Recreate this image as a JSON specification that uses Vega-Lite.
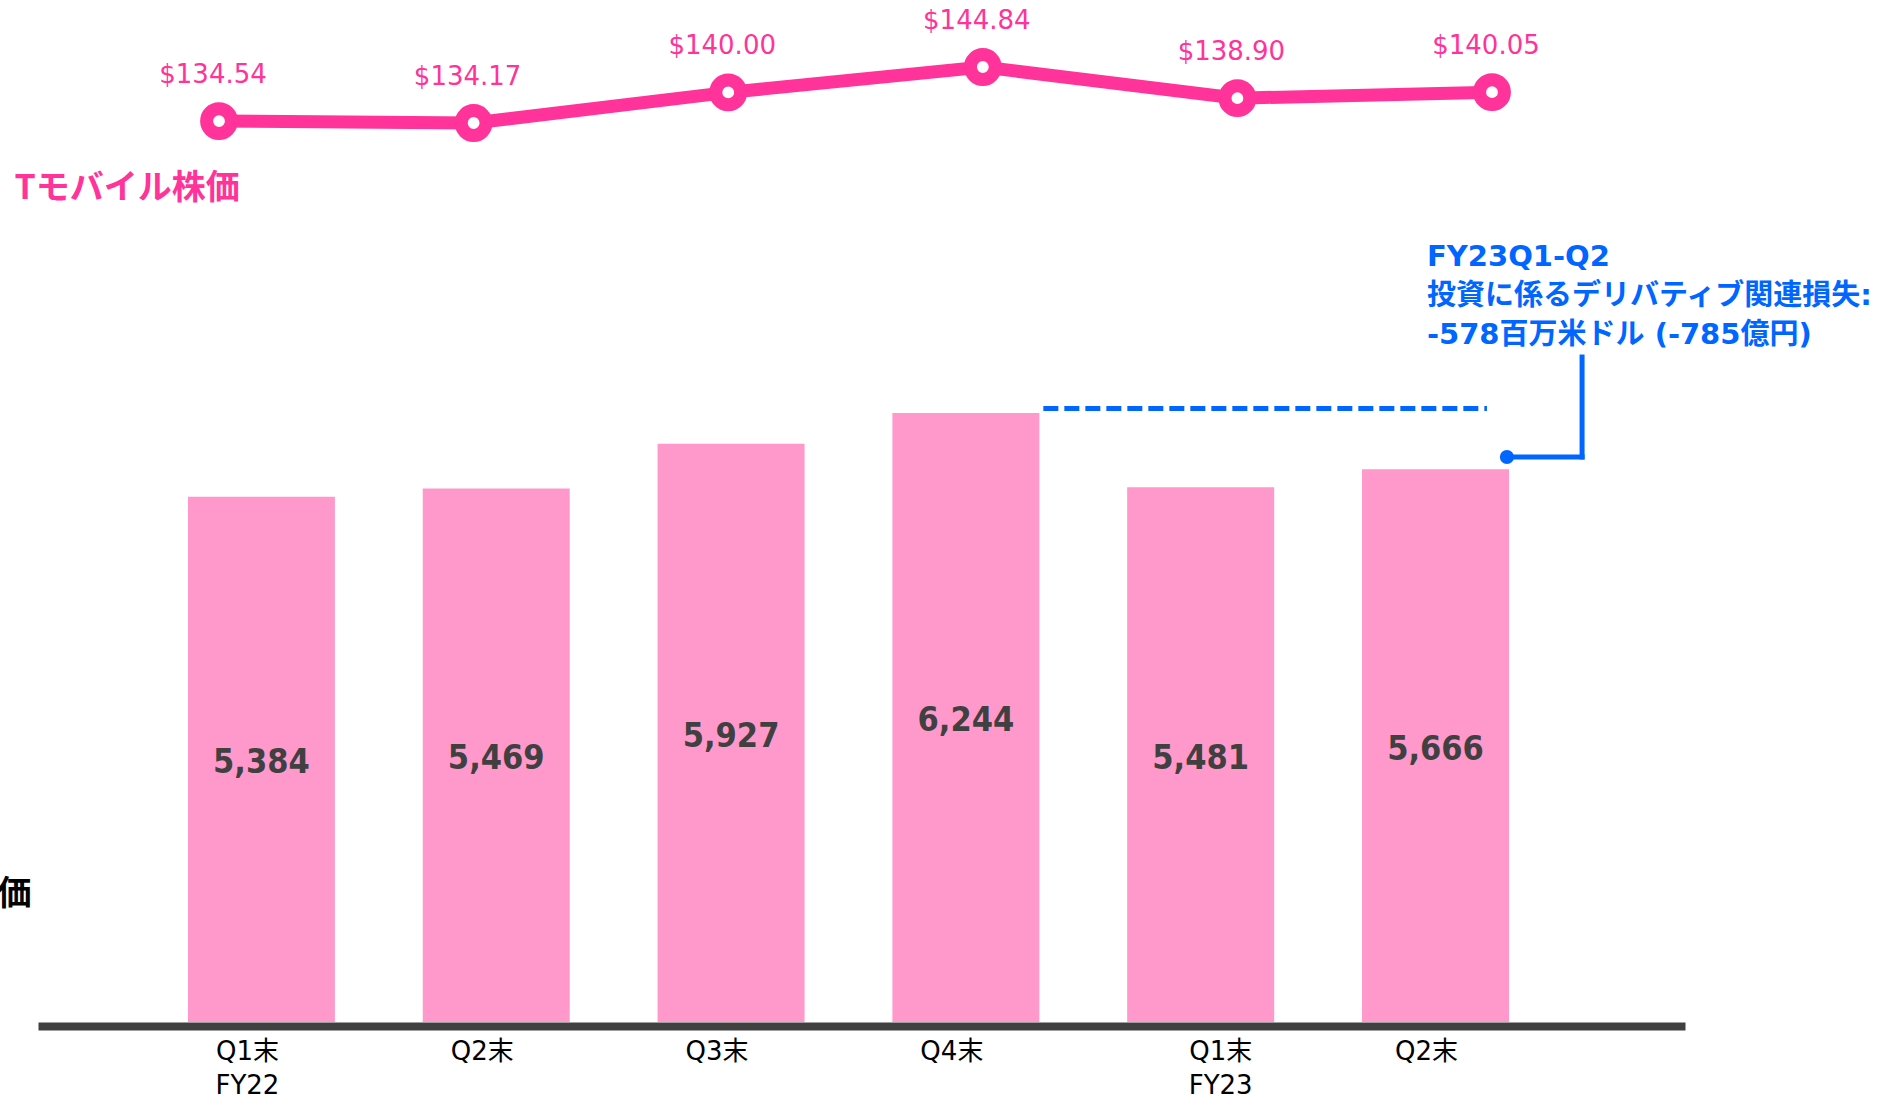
{
  "$schema": "https://vega.github.io/schema/vega-lite/v6.json",
  "autosize": {"type": "none"},
  "padding": {"left": 38, "top": 0, "right": 192, "bottom": 76},
  "width": 1647,
  "height": 1022,
  "background": "white",
  "config": {"view": {"stroke": null}, "axis": {"grid": false}},
  "datasets": {
    "quarters": [
      {"period": "FY22Q1", "value": 5384, "price": 134.54},
      {"period": "FY22Q2", "value": 5469, "price": 134.17},
      {"period": "FY22Q3", "value": 5927, "price": 140.00},
      {"period": "FY22Q4", "value": 6244, "price": 144.84},
      {"period": "FY23Q1", "value": 5481, "price": 138.90},
      {"period": "FY23Q2", "value": 5666, "price": 140.05}
    ],
    "reference": [
      {"from": "FY22Q4", "to": "FY23Q2", "level": 6244}
    ],
    "connector": [
      {"period": "FY23Q2", "low": 5792, "high": 6817}
    ],
    "note": [
      {"period": "FY23Q2", "pos": 7842, "label": "FY23Q1-Q2\n投資に係るデリバティブ関連損失:\n-578百万米ドル (-785億円)"}
    ]
  },
  "layer": [
    {
      "layer": [
        {
          "data": {"name": "quarters"},
          "mark": {"type": "bar", "color": "#FF99CC"},
          "encoding": {
            "x": {"field": "period", "type": "nominal", "sort": null, "scale": {"type": "band", "domain": ["FY22Q1", "FY22Q2", "FY22Q3", "FY22Q4", "FY23Q1", "FY23Q2"], "paddingInner": 0.374, "paddingOuter": 0.694, "align": 0.46, "round": false}, "axis": null},
            "y": {"field": "value", "type": "quantitative", "scale": {"domain": [0, 10477], "nice": false}, "axis": null}
          }
        },
        {
          "data": {"name": "reference"},
          "mark": {"type": "rule", "color": "#0066FF", "strokeWidth": 5, "strokeDash": [15, 6], "yOffset": -4.5},
          "encoding": {
            "x": {"field": "from", "type": "nominal", "bandPosition": 1.027, "scale": {"type": "band", "domain": ["FY22Q1", "FY22Q2", "FY22Q3", "FY22Q4", "FY23Q1", "FY23Q2"], "paddingInner": 0.374, "paddingOuter": 0.694, "align": 0.46, "round": false}, "axis": null},
            "x2": {"field": "to", "bandPosition": 0.85},
            "y": {"field": "level", "type": "quantitative", "scale": {"domain": [0, 10477], "nice": false}, "axis": null}
          }
        },
        {
          "data": {"name": "connector"},
          "mark": {"type": "rule", "color": "#0066FF", "strokeWidth": 5, "strokeCap": "square"},
          "encoding": {
            "x": {"field": "period", "type": "nominal", "bandPosition": 0.986, "scale": {"type": "band", "domain": ["FY22Q1", "FY22Q2", "FY22Q3", "FY22Q4", "FY23Q1", "FY23Q2"], "paddingInner": 0.374, "paddingOuter": 0.694, "align": 0.46, "round": false}, "axis": null},
            "x2": {"field": "period", "bandPosition": 1.497},
            "y": {"field": "low", "type": "quantitative", "scale": {"domain": [0, 10477], "nice": false}, "axis": null}
          }
        },
        {
          "data": {"name": "connector"},
          "mark": {"type": "rule", "color": "#0066FF", "strokeWidth": 5, "strokeCap": "square"},
          "encoding": {
            "x": {"field": "period", "type": "nominal", "bandPosition": 1.497, "scale": {"type": "band", "domain": ["FY22Q1", "FY22Q2", "FY22Q3", "FY22Q4", "FY23Q1", "FY23Q2"], "paddingInner": 0.374, "paddingOuter": 0.694, "align": 0.46, "round": false}, "axis": null},
            "y": {"field": "low", "type": "quantitative", "scale": {"domain": [0, 10477], "nice": false}, "axis": null},
            "y2": {"field": "high"}
          }
        },
        {
          "data": {"name": "connector"},
          "mark": {"type": "circle", "color": "#0066FF", "size": 201, "opacity": 1},
          "encoding": {
            "x": {"field": "period", "type": "nominal", "bandPosition": 0.986, "scale": {"type": "band", "domain": ["FY22Q1", "FY22Q2", "FY22Q3", "FY22Q4", "FY23Q1", "FY23Q2"], "paddingInner": 0.374, "paddingOuter": 0.694, "align": 0.46, "round": false}, "axis": null},
            "y": {"field": "low", "type": "quantitative", "scale": {"domain": [0, 10477], "nice": false}, "axis": null}
          }
        },
        {
          "data": {"name": "note"},
          "mark": {"type": "text", "align": "left", "baseline": "middle", "lineBreak": "\n", "lineHeight": 39, "font": "DejaVu Sans, Noto Sans CJK JP", "fontWeight": "bold", "fontSize": 29, "color": "#0066FF"},
          "encoding": {
            "x": {"field": "period", "type": "nominal", "bandPosition": 0.442, "scale": {"type": "band", "domain": ["FY22Q1", "FY22Q2", "FY22Q3", "FY22Q4", "FY23Q1", "FY23Q2"], "paddingInner": 0.374, "paddingOuter": 0.694, "align": 0.46, "round": false}, "axis": null},
            "y": {"field": "pos", "type": "quantitative", "scale": {"domain": [0, 10477], "nice": false}, "axis": null},
            "text": {"field": "label", "type": "nominal"}
          }
        }
      ]
    },
    {
      "data": {"name": "quarters"},
      "mark": {"type": "text", "font": "DejaVu Sans Condensed, DejaVu Sans", "fontWeight": "bold", "fontSize": 34, "color": "#404040", "baseline": "middle", "dy": 4},
      "encoding": {
        "x": {
          "field": "period", "type": "nominal", "sort": null,
          "scale": {"type": "band", "domain": ["FY22Q1", "FY22Q2", "FY22Q3", "FY22Q4", "FY23Q1", "FY23Q2"], "paddingInner": 0.374, "paddingOuter": 0.694, "align": 0.46, "round": false},
          "axis": {
            "title": null, "orient": "bottom", "ticks": false, "domain": true, "domainColor": "#404040", "domainWidth": 8, "offset": 4,
            "labelAngle": 0,
            "labelOffset": {"condition": [{"test": "datum.value === 'FY23Q1'", "value": 20}, {"test": "datum.value === 'FY23Q2'", "value": -9}], "value": -14},
            "labelPadding": 12, "labelFont": "DejaVu Sans, Noto Sans CJK JP", "labelFontSize": 26,
            "labelColor": "#000000", "labelBaseline": "top", "labelLineHeight": 34,
            "labelExpr": "datum.value == 'FY22Q1' ? ['Q1末', 'FY22'] : datum.value == 'FY23Q1' ? ['Q1末', 'FY23'] : slice(datum.value, 4) + '末'"
          }
        },
        "y": {
          "field": "value", "type": "quantitative",
          "scale": {"domain": [0, 20954], "nice": false},
          "axis": {
            "orient": "left", "title": "株価", "labels": false, "ticks": false, "domain": false, "grid": false,
            "titleAngle": 0, "titleAlign": "right", "titleBaseline": "middle", "titleX": -7, "titleY": 894,
            "titleFont": "Noto Sans CJK JP", "titleFontWeight": "bold", "titleFontSize": 34, "titleColor": "#000000"
          }
        },
        "text": {"field": "value", "type": "quantitative", "format": ","}
      }
    },
    {
      "data": {"name": "quarters"},
      "encoding": {
        "x": {"field": "period", "type": "nominal", "sort": null, "scale": {"type": "point", "domain": ["FY22Q1", "FY22Q2", "FY22Q3", "FY22Q4", "FY23Q1", "FY23Q2"], "padding": 0.7345, "align": 0.484, "round": false}, "axis": null},
        "y": {
          "field": "price", "type": "quantitative",
          "scale": {"domain": [-37.13, 157.61], "nice": false, "zero": false},
          "axis": {
            "orient": "left", "title": "Tモバイル株価", "labels": false, "ticks": false, "domain": false, "grid": false,
            "titleAngle": 0, "titleAlign": "left", "titleBaseline": "middle", "titleX": -24, "titleY": 188,
            "titleFont": "Noto Sans CJK JP", "titleFontWeight": "bold", "titleFontSize": 34, "titleColor": "#FF3399"
          }
        }
      },
      "layer": [
        {"mark": {"type": "line", "color": "#FF3399", "strokeWidth": 13}},
        {"mark": {"type": "circle", "fill": "white", "stroke": "#FF3399", "strokeWidth": 13, "size": 616, "opacity": 1, "fillOpacity": 1, "strokeOpacity": 1}},
        {
          "mark": {"type": "text", "font": "DejaVu Sans", "fontSize": 26, "color": "#FF3399", "baseline": "middle", "dy": -46, "dx": -6},
          "encoding": {"text": {"field": "price", "type": "quantitative", "format": "$.2f"}}
        }
      ]
    }
  ],
  "resolve": {"scale": {"x": "independent", "y": "independent"}, "axis": {"x": "independent", "y": "independent"}}
}
